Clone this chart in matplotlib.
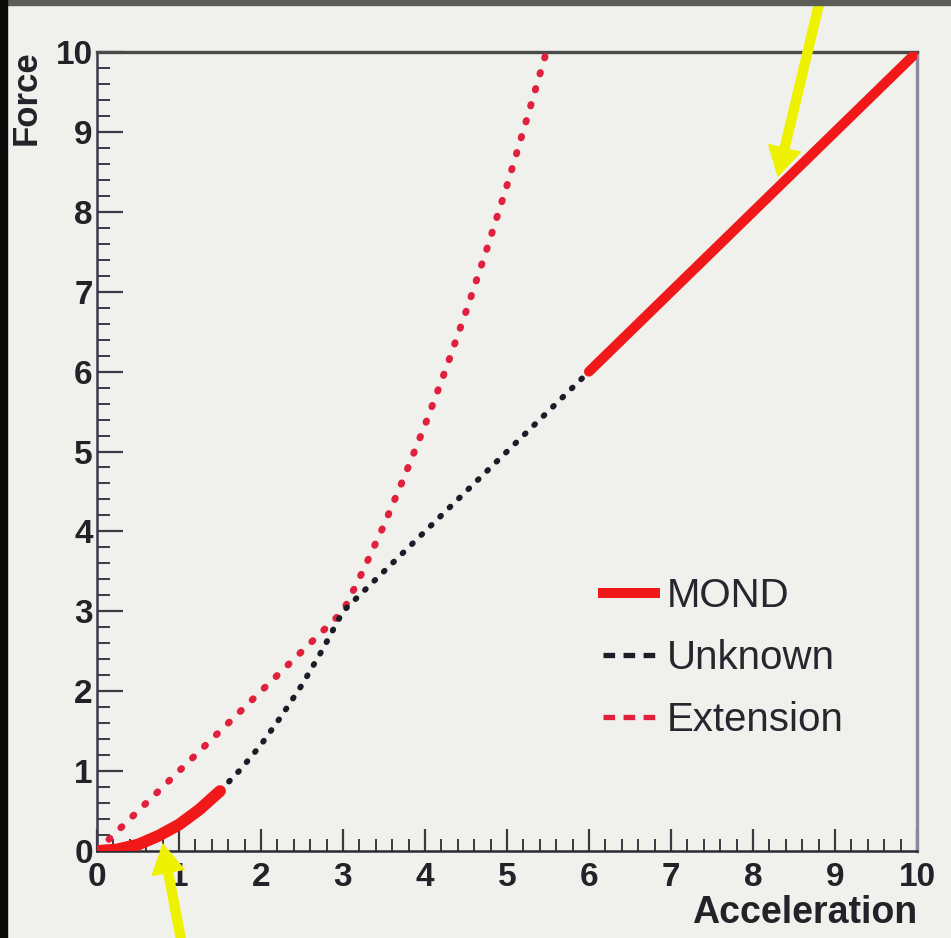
import matplotlib
matplotlib.use("Agg")
import matplotlib.pyplot as plt
from matplotlib.lines import Line2D
from matplotlib.patches import Rectangle
from matplotlib.ticker import MultipleLocator

# ---- data -------------------------------------------------------------
mond_low_x = [0.0, 0.25, 0.5, 0.75, 1.0, 1.25, 1.5]
mond_low_y = [0.0, 0.02, 0.08, 0.19, 0.33, 0.52, 0.75]

unknown_x = [1.5, 1.75, 2.0, 2.25, 2.5, 2.75, 3.0, 4.0, 5.0, 6.0]
unknown_y = [0.75, 1.02, 1.33, 1.69, 2.08, 2.52, 3.0, 4.0, 5.0, 6.0]

mond_high_x = [6.0, 10.0]
mond_high_y = [6.0, 10.0]

extension_x = [0.0, 3.0, 3.25, 3.5, 3.75, 4.0, 4.25, 4.5, 4.75, 5.0, 5.25, 5.48]
extension_y = [0.0, 3.0, 3.52, 4.08, 4.69, 5.33, 6.02, 6.75, 7.52, 8.33, 9.19, 10.0]

tick_values = list(range(0, 11))
legend_labels = ["MOND", "Unknown", "Extension"]

# ---- styling ----------------------------------------------------------
BG = "#f0f0ec"
RED = "#f01818"
EXT_RED = "#e0203c"
DOT_BLACK = "#1c1c28"
YELLOW = "#eef200"
INK = "#222228"

plt.rcParams["font.family"] = ["Liberation Sans", "DejaVu Sans"]

fig = plt.figure(figsize=(9.51, 9.38), dpi=100, facecolor=BG)
ax = fig.add_axes([97 / 951, 1 - 851 / 938, 820 / 951, 799 / 938])
ax.set_facecolor(BG)

# slide frame edges
fig.patches.append(Rectangle((0, 1 - 5 / 938), 1, 5 / 938, transform=fig.transFigure,
                             color="#5c5c58", zorder=0))
fig.patches.append(Rectangle((0, 0), 7 / 951, 1, transform=fig.transFigure,
                             color="#0a0a0a", zorder=0))

# curves
ax.plot(extension_x, extension_y, color=EXT_RED, lw=5.0,
        linestyle=(0, (0.2, 2.2)), dash_capstyle="round", zorder=3)
ax.plot(unknown_x, unknown_y, color=DOT_BLACK, lw=4.2,
        linestyle=(0, (0.2, 2.05)), dash_capstyle="round", zorder=3)
ax.plot(mond_low_x, mond_low_y, color=RED, lw=8.5, solid_capstyle="round", zorder=4)
ax.plot(mond_high_x, mond_high_y, color=RED, lw=7.2, solid_capstyle="round", zorder=4)

ax.set_xlim(0, 10)
ax.set_ylim(0, 10)

# axes frame
for side, col, lw in [("left", "#3a3a4c", 1.8), ("bottom", "#2a2a32", 1.8),
                      ("top", "#4a4a4a", 2.4), ("right", "#8a8a9c", 2.4)]:
    ax.spines[side].set_color(col)
    ax.spines[side].set_linewidth(lw)

ax.xaxis.set_minor_locator(MultipleLocator(0.2))
ax.yaxis.set_minor_locator(MultipleLocator(0.2))
ax.set_xticks(tick_values)
ax.set_yticks(tick_values)
ax.set_xticklabels([str(v) for v in tick_values])
ax.set_yticklabels([str(v) for v in tick_values])

ax.tick_params(axis="x", which="major", direction="in", length=16, width=1.6,
               color="#3a3a44", pad=8, labelsize=24, labelcolor=INK,
               top=False, bottom=True)
ax.tick_params(axis="x", which="minor", direction="in", length=9, width=1.4,
               color="#3a3a44", top=False, bottom=True)
ax.tick_params(axis="y", which="major", direction="in", length=19, width=1.6,
               color="#3a3a44", pad=3, labelsize=24, labelcolor=INK,
               left=True, right=False)
ax.tick_params(axis="y", which="minor", direction="in", length=9, width=1.4,
               color="#3a3a44", left=True, right=False)
for lab in ax.get_xticklabels() + ax.get_yticklabels():
    lab.set_fontweight("bold")

ax.text(-0.086, 1.002, "Force", transform=ax.transAxes, rotation=90,
        ha="center", va="top", fontsize=25, fontweight="bold", color=INK)
ax.text(1.0, -0.078, "Acceleration", transform=ax.transAxes,
        ha="right", va="center", fontsize=27, fontweight="bold", color=INK)

# legend
handles = [
    Line2D([], [], color=RED, lw=7.2),
    Line2D([], [], color=DOT_BLACK, lw=3.8, linestyle=(0, (2.2, 1.6)), dash_capstyle="butt"),
    Line2D([], [], color=EXT_RED, lw=3.8, linestyle=(0, (2.2, 1.6)), dash_capstyle="butt"),
]
leg = ax.legend(handles, legend_labels, loc="upper left",
                bbox_to_anchor=((603 - 97) / 820, (851 - 577) / 799),
                frameon=False, fontsize=29, handlelength=1.3, handletextpad=0.28,
                labelspacing=0.6, borderpad=0, borderaxespad=0)
for t in leg.get_texts():
    t.set_color("#26262e")

# yellow pointer arrows
arrow_style = "simple,head_length=1.1,head_width=1.25,tail_width=0.37"
ax.annotate("", xy=(8.30, 8.43), xytext=(8.84, 10.75), xycoords="data",
            textcoords="data", annotation_clip=False,
            arrowprops=dict(arrowstyle=arrow_style, mutation_scale=20,
                            color=YELLOW, lw=0, shrinkA=0, shrinkB=0), zorder=6)
ax.annotate("", xy=(0.80, 0.10), xytext=(1.05, -1.25), xycoords="data",
            textcoords="data", annotation_clip=False,
            arrowprops=dict(arrowstyle=arrow_style, mutation_scale=20,
                            color=YELLOW, lw=0, shrinkA=0, shrinkB=0), zorder=6)

fig.savefig("out.png", dpi=100, facecolor=BG)
